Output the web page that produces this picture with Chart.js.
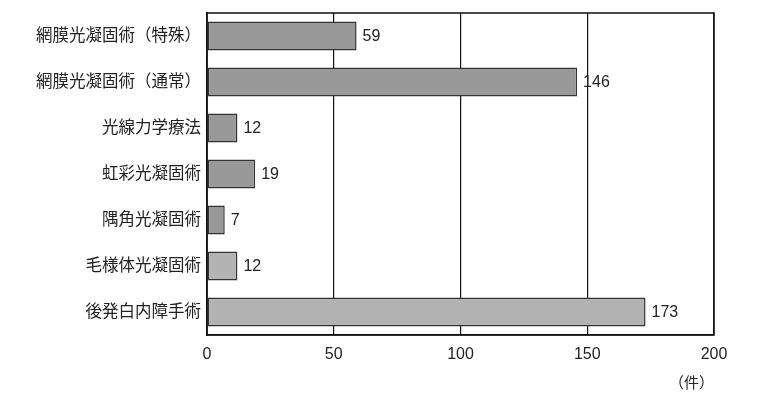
<!DOCTYPE html>
<html>
<head>
<meta charset="utf-8">
<script src="https://cdn.jsdelivr.net/npm/chart.js@4"></script>
<style>
  html, body { margin: 0; padding: 0; background: #fff; }
  #wrap { width: 765px; height: 411px; }
</style>
</head>
<body>
<div id="wrap"><canvas id="chart" width="765" height="411"></canvas></div>
<script>
const categories = ['網膜光凝固術（特殊）', '網膜光凝固術（通常）', '光線力学療法', '虹彩光凝固術', '隅角光凝固術', '毛様体光凝固術', '後発白内障手術'];
const counts = [59, 146, 12, 19, 7, 12, 173];
const barColors = ['#999999', '#999999', '#999999', '#999999', '#999999', '#b3b3b3', '#b3b3b3'];
const unitLabel = '（件）';

const font = '"Liberation Sans", "Noto Sans CJK JP", sans-serif';

// value labels to the right of each bar
const valueLabels = {
    id: 'valueLabels',
    afterDatasetsDraw(chart) {
        const ctx = chart.ctx;
        const meta = chart.getDatasetMeta(0);
        ctx.save();
        ctx.font = '16px ' + font;
        ctx.fillStyle = '#222';
        ctx.textBaseline = 'middle';
        ctx.textAlign = 'left';
        meta.data.forEach((bar, i) => {
            ctx.fillText(String(counts[i]), bar.x + 6, bar.y + 1);
        });
        ctx.restore();
    }
};

// box around the plot area
const plotBox = {
    id: 'plotBox',
    afterDraw(chart) {
        const a = chart.chartArea;
        const ctx = chart.ctx;
        ctx.save();
        ctx.strokeStyle = '#111';
        ctx.lineWidth = 1.5;
        ctx.strokeRect(a.left, a.top, a.right - a.left, a.bottom - a.top);
        ctx.restore();
    }
};

new Chart(document.getElementById('chart').getContext('2d'), {
    type: 'bar',
    data: {
        labels: categories,
        datasets: [{
            data: counts,
            backgroundColor: barColors,
            borderColor: '#333',
            borderWidth: 1.5,
            borderSkipped: false,
            categoryPercentage: 0.63,
            barPercentage: 1
        }]
    },
    options: {
        indexAxis: 'y',
        responsive: false,
        animation: false,
        layout: { padding: { top: 13, right: 51, left: 0, bottom: 18 } },
        plugins: {
            legend: { display: false },
            tooltip: { enabled: false }
        },
        scales: {
            x: {
                min: 0,
                max: 200,
                ticks: { stepSize: 50, color: '#222', font: { family: font, size: 16 }, padding: 10, maxRotation: 0 },
                grid: { color: '#111', lineWidth: 1.2, drawTicks: false },
                border: { display: true, color: '#111', width: 1.5 },
                title: {
                    display: true,
                    text: unitLabel,
                    align: 'end',
                    color: '#222',
                    font: { family: font, size: 15 },
                    padding: { top: 4, bottom: 0 }
                },
                afterFit(scale) { scale.height = 58; }
            },
            y: {
                ticks: { color: '#222', font: { family: font, size: 16.5 }, padding: -2 },
                grid: { display: false },
                border: { display: true, color: '#111', width: 1.5 },
                afterFit(scale) { scale.width = 207; }
            }
        }
    },
    plugins: [valueLabels, plotBox]
});
</script>
</body>
</html>
